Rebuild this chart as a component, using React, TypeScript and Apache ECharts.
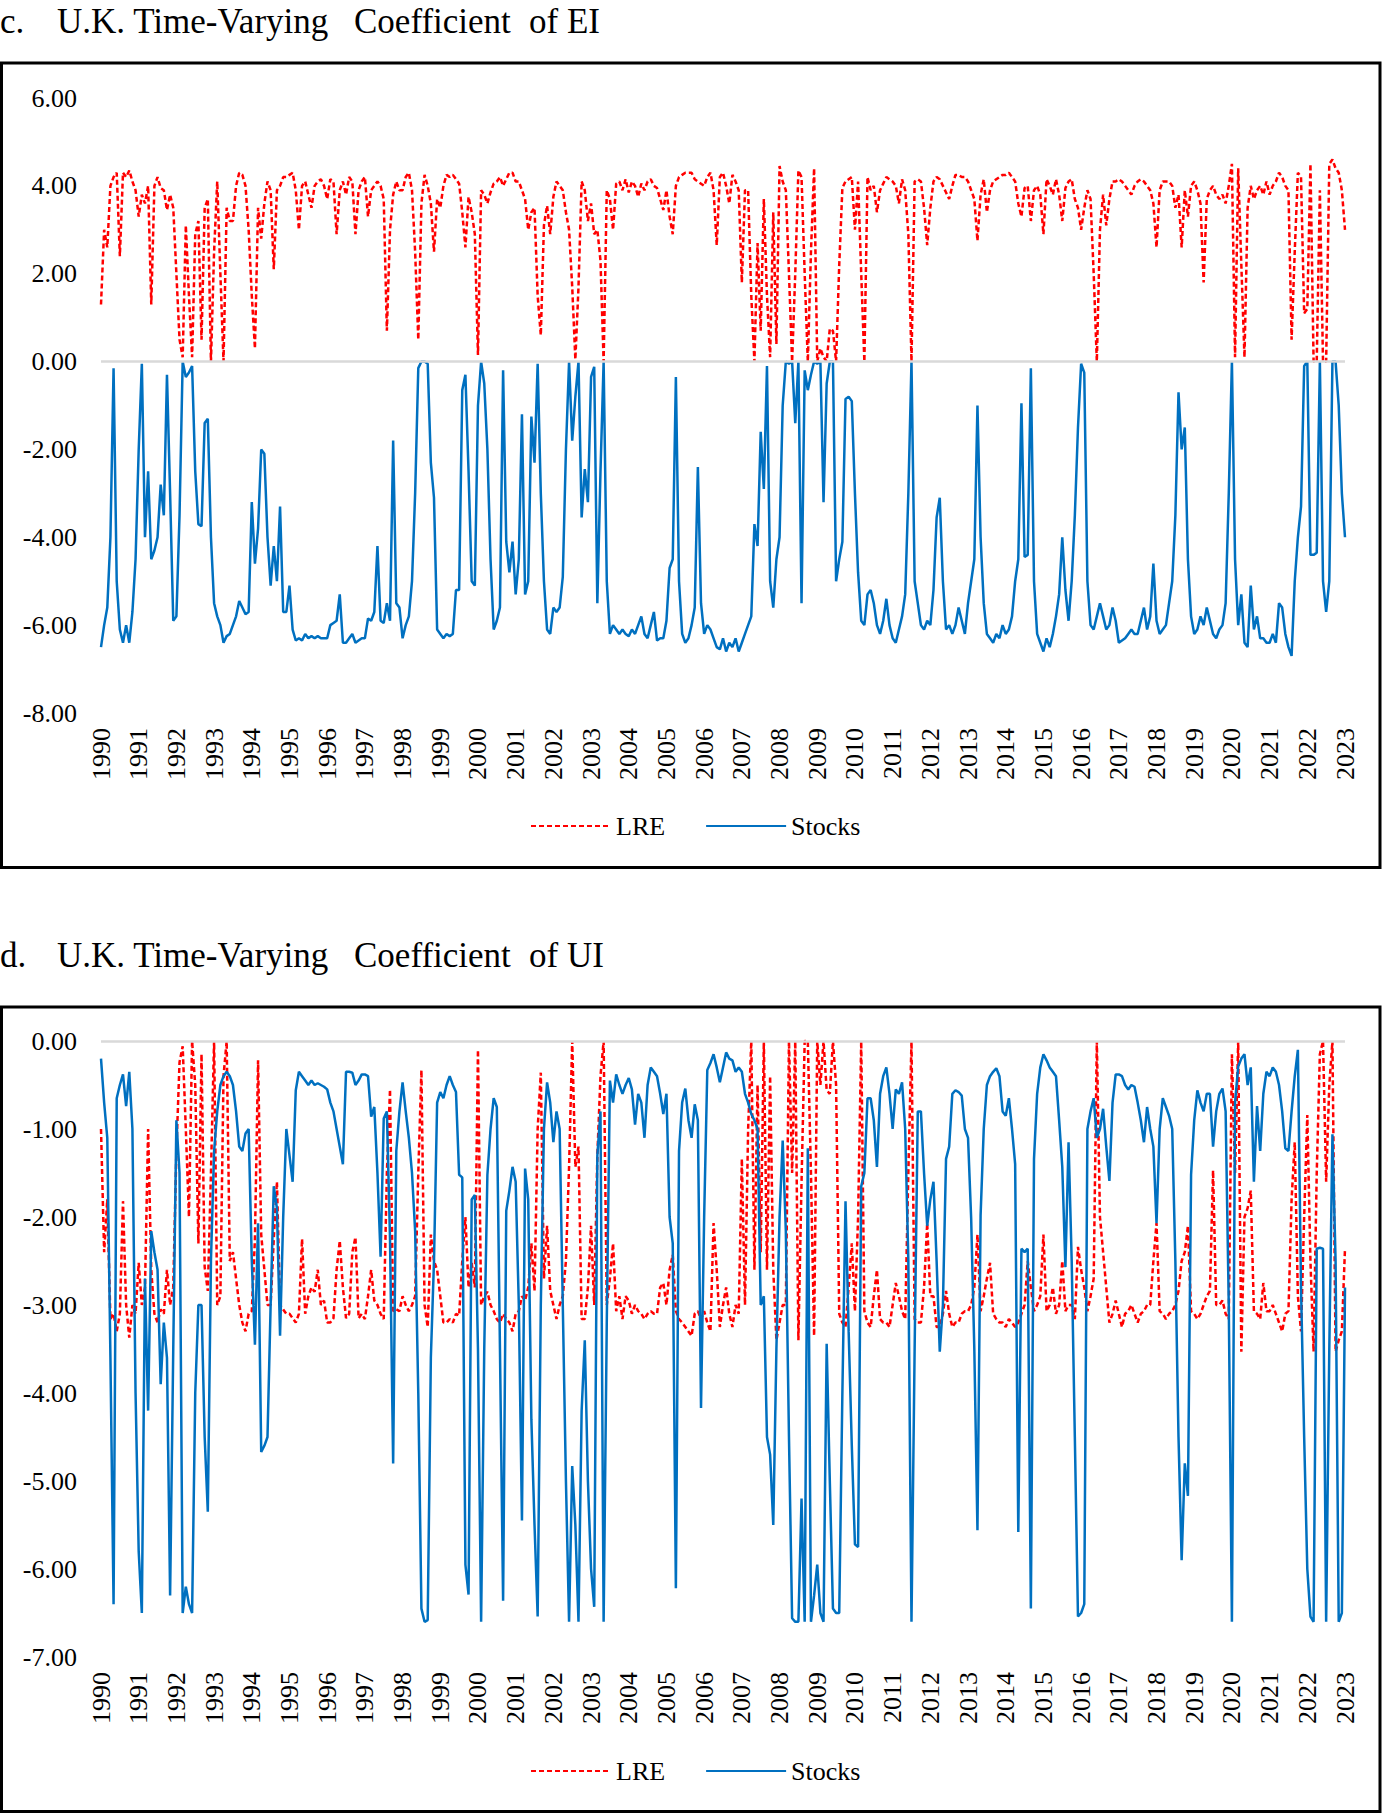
import { useEffect, useRef } from 'react'
import * as echarts from 'echarts'

// x axis: monthly observations, Jan 1990 .. Jan 2023
const yearLabels = [
  '1990', '1991', '1992', '1993', '1994', '1995', '1996', '1997', '1998', '1999', '2000', '2001',
  '2002', '2003', '2004', '2005', '2006', '2007', '2008', '2009', '2010', '2011', '2012', '2013',
  '2014', '2015', '2016', '2017', '2018', '2019', '2020', '2021', '2022', '2023',
]
const monthLabels = ['01', '02', '03', '04', '05', '06', '07', '08', '09', '10', '11', '12']

const cTicks = [-8, -6, -4, -2, 0, 2, 4, 6]
const dTicks = [-7, -6, -5, -4, -3, -2, -1, 0]

// c. Time-varying coefficient of EI
const cLRE = [
  1.3, 3.0, 2.6, 4.0, 4.2, 4.3, 2.4, 4.3, 4.2, 4.35, 4.1, 3.9, // 1990
  3.3, 3.8, 3.6, 4.0, 1.3, 4.0, 4.2, 3.95, 3.9, 3.45, 3.8, 3.5,
  2.0, 0.5, 0.1, 3.1, 1.5, 0.1, 2.9, 3.2, 0.5, 3.5, 3.7, 0.0,
  2.5, 4.1, 2.0, 0.0, 3.5, 3.2, 3.2, 4.0, 4.3, 4.25, 4.0, 3.0,
  1.5, 0.3, 3.5, 2.8, 3.6, 4.1, 3.9, 2.1, 3.9, 4.0, 4.2, 4.2,
  4.25, 4.3, 3.9, 3.0, 4.0, 4.1, 3.8, 3.5, 4.0, 4.1, 4.15, 4.0, // 1995
  3.7, 4.15, 4.1, 2.9, 3.9, 4.1, 3.8, 4.2, 4.1, 2.9, 3.9, 4.1,
  4.2, 3.3, 3.9, 4.0, 4.1, 4.0, 3.7, 0.7, 3.0, 3.8, 4.1, 3.9,
  3.9, 4.2, 4.3, 3.9, 2.5, 0.5, 3.6, 4.25, 4.0, 3.6, 2.5, 3.7,
  3.5, 4.0, 4.25, 4.2, 4.25, 4.15, 4.05, 3.4, 2.6, 3.75, 3.4, 2.9,
  0.15, 3.9, 3.8, 3.6, 3.85, 4.05, 4.1, 4.2, 4.0, 4.15, 4.3, 4.3, // 2000
  4.1, 4.1, 3.9, 3.7, 3.0, 3.4, 3.5, 1.5, 0.6, 3.1, 3.55, 2.9,
  3.75, 4.1, 4.0, 3.9, 3.4, 3.0, 1.7, 0.05, 1.7, 4.1, 3.9, 3.2,
  3.6, 2.9, 3.0, 2.3, 0.0, 3.9, 3.7, 3.0, 4.05, 4.1, 3.9, 4.15,
  3.85, 4.1, 4.0, 3.75, 4.05, 3.9, 4.1, 4.15, 4.0, 3.95, 3.7, 3.45,
  3.9, 3.3, 2.9, 4.0, 4.2, 4.25, 4.3, 4.3, 4.3, 4.15, 4.1, 4.05, // 2005
  4.0, 4.2, 4.3, 3.9, 2.65, 4.2, 4.3, 4.0, 3.6, 4.25, 4.1, 3.9,
  1.8, 3.9, 3.9, 1.5, 0.0, 2.7, 0.7, 3.7, 1.5, 0.1, 3.4, 0.4,
  4.45, 4.1, 3.9, 2.0, 0.0, 2.0, 4.35, 4.2, 2.0, 0.0, 2.5, 4.4,
  0.0, 0.3, 0.1, 0.0, 0.75, 0.7, 0.0, 2.2, 3.95, 4.1, 4.15, 4.2,
  3.0, 4.1, 2.0, 0.0, 4.2, 3.9, 4.0, 3.4, 3.9, 4.05, 4.2, 4.15, // 2010
  4.1, 4.0, 3.6, 4.15, 3.9, 2.9, 0.0, 4.1, 4.15, 4.1, 3.5, 2.65,
  3.5, 4.1, 4.2, 4.15, 4.0, 3.85, 3.7, 4.0, 4.25, 4.25, 4.2, 4.2,
  4.1, 3.9, 3.7, 2.75, 3.8, 4.15, 3.4, 3.9, 4.1, 4.15, 4.2, 4.25,
  4.25, 4.3, 4.2, 4.1, 3.6, 3.3, 3.95, 4.0, 3.2, 3.9, 4.0, 3.8,
  2.9, 4.15, 4.0, 3.8, 4.15, 3.8, 3.2, 3.95, 4.1, 4.15, 3.7, 3.5, // 2015
  3.0, 3.5, 3.9, 3.7, 2.0, 0.0, 3.0, 3.8, 3.1, 3.7, 4.1, 4.1,
  4.15, 4.1, 4.0, 3.9, 3.8, 4.0, 4.1, 4.15, 4.1, 4.0, 3.9, 3.6,
  2.6, 3.9, 4.1, 4.1, 4.1, 4.0, 3.5, 3.8, 2.6, 3.9, 3.3, 4.0,
  4.1, 3.9, 3.6, 1.8, 3.7, 3.9, 4.0, 3.8, 3.7, 3.8, 3.6, 4.0,
  4.5, 0.1, 4.4, 2.2, 0.1, 3.5, 4.0, 3.7, 3.9, 4.0, 3.8, 4.1, // 2020
  3.8, 4.0, 4.1, 4.3, 4.2, 4.0, 3.9, 0.5, 2.5, 4.3, 4.2, 1.1,
  1.2, 4.5, 0.0, 0.0, 3.9, 0.0, 0.0, 4.5, 4.6, 4.4, 4.3, 3.9,
  3.0, // 2023
]

const cStocks = [
  -6.5, -6.0, -5.6, -4.0, -0.15, -5.0, -6.1, -6.4, -6.0, -6.4, -5.7, -4.5, // 1990
  -2.0, -0.05, -4.0, -2.5, -4.5, -4.3, -4.0, -2.8, -3.5, -0.3, -3.0, -5.9,
  -5.8, -3.5, 0.0, -0.35, -0.25, -0.1, -2.5, -3.7, -3.75, -1.4, -1.3, -4.0,
  -5.5, -5.8, -6.0, -6.4, -6.25, -6.2, -6.0, -5.8, -5.45, -5.6, -5.75, -5.7,
  -3.2, -4.6, -3.8, -2.0, -2.1, -4.0, -5.1, -4.2, -5.0, -3.3, -5.7, -5.7,
  -5.1, -6.1, -6.35, -6.3, -6.35, -6.2, -6.3, -6.25, -6.3, -6.25, -6.3, -6.3, // 1995
  -6.3, -6.0, -5.95, -5.9, -5.3, -6.4, -6.4, -6.3, -6.2, -6.4, -6.35, -6.3,
  -6.3, -5.85, -5.9, -5.7, -4.2, -5.9, -5.95, -5.5, -5.9, -1.8, -5.5, -5.6,
  -6.3, -6.0, -5.8, -5.0, -3.0, -0.15, 0.0, 0.0, -0.05, -2.3, -3.1, -6.1,
  -6.2, -6.3, -6.2, -6.25, -6.2, -5.2, -5.2, -0.65, -0.3, -2.5, -5.0, -5.1,
  -1.0, 0.0, -0.5, -2.0, -4.5, -6.1, -5.9, -5.6, -0.2, -4.1, -4.8, -4.1, // 2000
  -5.3, -4.5, -1.2, -5.3, -5.0, -1.25, -2.3, -0.05, -3.0, -5.0, -6.1, -6.2,
  -5.6, -5.7, -5.6, -4.9, -2.0, 0.0, -1.8, -0.8, 0.0, -3.55, -2.45, -3.2,
  -0.35, -0.12, -5.5, -2.5, 0.0, -5.0, -6.2, -6.0, -6.1, -6.2, -6.1, -6.2,
  -6.25, -6.1, -6.2, -6.0, -5.8, -6.2, -6.3, -6.0, -5.7, -6.35, -6.3, -6.3,
  -5.9, -4.7, -4.5, -0.35, -5.0, -6.2, -6.4, -6.3, -6.0, -5.6, -2.4, -5.5, // 2005
  -6.2, -6.0, -6.1, -6.3, -6.5, -6.55, -6.3, -6.6, -6.4, -6.5, -6.3, -6.6,
  -6.4, -6.2, -6.0, -5.8, -3.7, -4.2, -1.6, -2.9, -0.1, -5.0, -5.6, -4.5,
  -4.0, -1.0, 0.0, -0.05, 0.0, -1.4, 0.0, -5.5, -0.2, -0.65, -0.3, 0.0,
  -0.05, 0.0, -3.2, -0.5, 0.0, 0.0, -5.0, -4.5, -4.1, -0.85, -0.8, -0.9,
  -3.0, -4.8, -5.9, -6.0, -5.3, -5.2, -5.5, -6.0, -6.2, -5.9, -5.4, -6.0, // 2010
  -6.3, -6.4, -6.1, -5.8, -5.3, -3.0, 0.0, -5.0, -5.5, -6.0, -6.1, -5.9,
  -6.0, -5.2, -3.55, -3.1, -5.0, -6.1, -6.0, -6.2, -6.0, -5.6, -5.9, -6.2,
  -5.5, -5.0, -4.5, -1.0, -4.0, -5.5, -6.2, -6.3, -6.4, -6.2, -6.3, -6.0,
  -6.2, -6.1, -5.8, -5.0, -4.5, -0.95, -4.45, -4.4, -0.15, -5.0, -6.2, -6.4,
  -6.6, -6.3, -6.5, -6.2, -5.8, -5.3, -4.0, -5.2, -5.9, -5.0, -3.5, -1.5, // 2015
  -0.05, -0.25, -5.0, -6.0, -6.1, -5.8, -5.5, -5.8, -6.1, -6.0, -5.6, -5.9,
  -6.4, -6.35, -6.3, -6.2, -6.1, -6.2, -6.2, -5.9, -5.6, -6.1, -5.8, -4.6,
  -5.9, -6.2, -6.1, -6.0, -5.5, -5.0, -3.5, -0.7, -2.0, -1.5, -4.5, -5.8,
  -6.2, -6.1, -5.8, -6.0, -5.6, -5.9, -6.2, -6.3, -6.1, -6.0, -5.5, -3.0,
  0.0, -4.5, -6.0, -5.3, -6.4, -6.5, -5.1, -6.1, -5.8, -6.3, -6.3, -6.4, // 2020
  -6.4, -6.2, -6.4, -5.5, -5.6, -6.2, -6.5, -6.7, -5.0, -4.0, -3.3, -0.1,
  0.0, -4.4, -4.4, -4.35, 0.0, -5.0, -5.7, -5.0, 0.0, 0.0, -1.0, -3.0,
  -4.0, // 2023
]

// d. Time-varying coefficient of UI
const dLRE = [
  -1.0, -2.4, -1.8, -3.16, -3.1, -3.3, -3.1, -1.82, -3.0, -3.37, -3.0, -3.1, // 1990
  -2.52, -3.0, -2.8, -1.0, -2.6, -3.1, -3.2, -3.05, -3.1, -2.6, -3.0, -2.8,
  -1.25, -0.24, -0.06, -1.0, -2.0, 0.0, -0.5, -2.3, -0.15, -2.57, -2.84, -1.5,
  0.0, -3.0, -2.9, -0.4, 0.0, -2.5, -2.4, -2.7, -3.0, -3.2, -3.3, -3.1,
  -3.07, -2.25, -0.22, -2.2, -2.6, -3.0, -3.0, -2.25, -1.6, -3.0, -3.05, -3.1,
  -3.1, -3.15, -3.2, -3.1, -2.25, -3.1, -2.9, -2.8, -2.85, -2.6, -3.0, -2.95, // 1995
  -3.2, -3.2, -3.15, -2.6, -2.27, -2.8, -3.15, -3.1, -2.4, -2.23, -3.15, -3.1,
  -3.16, -2.9, -2.6, -2.95, -3.0, -3.1, -3.16, -1.5, -0.55, -3.07, -3.05, -3.07,
  -2.9, -3.0, -3.07, -3.0, -2.9, -1.5, -0.33, -3.0, -3.25, -2.2, -2.5, -2.6,
  -2.9, -3.2, -3.2, -3.16, -3.2, -3.1, -3.12, -2.5, -2.0, -2.8, -2.52, -2.8,
  -0.1, -3.0, -2.9, -2.85, -3.0, -3.07, -3.16, -3.2, -3.1, -3.16, -3.2, -3.3, // 2000
  -3.1, -3.07, -2.9, -2.95, -2.8, -2.3, -2.84, -1.0, -0.36, -2.7, -2.1, -2.84,
  -3.0, -3.16, -3.0, -2.9, -2.5, -1.43, 0.0, -1.43, -1.2, -3.16, -3.16, -2.8,
  -2.1, -3.0, -1.3, -0.4, 0.0, -3.0, -2.7, -2.3, -3.07, -2.9, -3.16, -2.9,
  -2.95, -3.1, -3.0, -3.07, -3.1, -3.16, -3.1, -3.07, -3.1, -3.1, -2.8, -2.75,
  -3.0, -2.6, -2.43, -3.07, -3.16, -3.2, -3.25, -3.3, -3.35, -3.1, -3.07, -3.16, // 2005
  -3.07, -3.2, -3.3, -2.07, -2.6, -3.25, -3.0, -2.8, -3.1, -3.25, -3.0, -3.1,
  -1.34, -3.0, -1.0, 0.0, -2.6, -0.5, -2.4, 0.0, -2.6, -0.4, -2.6, -3.4,
  -3.2, -3.0, -3.0, 0.0, -1.5, 0.0, -3.4, -1.6, 0.0, 0.0, -1.5, -3.35,
  0.0, -0.5, 0.0, -0.56, -0.6, 0.0, -0.5, -3.1, -3.2, -3.25, -2.8, -2.3,
  -3.07, -2.0, 0.0, -3.07, -3.2, -3.25, -2.9, -2.6, -3.16, -3.2, -3.2, -3.25, // 2010
  -3.0, -2.75, -2.9, -3.07, -3.16, -1.5, 0.0, -3.16, -3.2, -3.2, -2.8, -2.07,
  -2.9, -2.9, -3.25, -3.25, -3.1, -2.84, -3.1, -3.25, -3.2, -3.2, -3.1, -3.07,
  -3.07, -3.0, -2.8, -2.2, -3.07, -2.9, -2.7, -2.52, -3.1, -3.16, -3.2, -3.2,
  -3.25, -3.16, -3.2, -3.25, -3.2, -3.1, -3.0, -2.5, -2.8, -3.07, -3.0, -2.9,
  -2.2, -3.07, -3.0, -2.8, -3.1, -3.0, -2.5, -3.07, -3.0, -3.0, -3.16, -2.34, // 2015
  -2.6, -2.8, -3.07, -2.9, -2.7, 0.0, -2.0, -2.4, -2.8, -3.2, -3.1, -2.95,
  -3.1, -3.25, -3.1, -3.07, -3.0, -3.1, -3.2, -3.1, -3.07, -3.0, -3.0, -2.5,
  -2.07, -3.07, -3.1, -3.16, -3.1, -3.07, -3.0, -2.84, -2.5, -2.4, -2.1, -3.07,
  -3.1, -3.16, -3.1, -3.0, -2.9, -2.84, -1.47, -3.0, -3.0, -2.95, -3.1, -3.16,
  -0.15, -1.5, 0.0, -3.53, -2.0, -1.9, -1.7, -3.07, -3.1, -3.16, -2.75, -3.07, // 2020
  -3.07, -3.0, -3.1, -3.2, -3.3, -3.1, -3.07, -1.8, -1.15, -2.9, -3.3, -2.0,
  -0.84, -2.5, -3.53, -1.5, -0.15, 0.0, -1.6, -0.5, 0.0, -3.53, -3.4, -3.3,
  -2.36, // 2023
]

const dStocks = [
  -0.2, -0.7, -1.1, -3.6, -6.4, -0.65, -0.5, -0.38, -0.74, -0.35, -1.0, -4.0, // 1990
  -5.8, -6.5, -2.7, -4.2, -2.16, -2.4, -2.6, -3.9, -3.2, -3.6, -6.3, -3.5,
  -0.9, -1.5, -6.5, -6.2, -6.4, -6.5, -4.0, -3.0, -3.0, -4.5, -5.35, -2.5,
  -1.25, -0.8, -0.5, -0.4, -0.35, -0.4, -0.5, -0.8, -1.2, -1.25, -1.05, -1.0,
  -2.5, -3.45, -2.07, -4.67, -4.6, -4.5, -3.0, -1.65, -1.9, -3.35, -2.0, -1.0,
  -1.3, -1.6, -0.56, -0.35, -0.4, -0.45, -0.5, -0.45, -0.5, -0.48, -0.5, -0.52, // 1995
  -0.55, -0.7, -0.8, -1.0, -1.2, -1.4, -0.35, -0.35, -0.36, -0.5, -0.45, -0.38,
  -0.38, -0.4, -0.86, -0.75, -1.5, -2.45, -0.88, -0.8, -2.25, -4.8, -1.25, -0.8,
  -0.47, -0.8, -1.1, -1.5, -2.16, -4.0, -6.45, -6.6, -6.58, -3.6, -2.5, -0.7,
  -0.58, -0.65, -0.5, -0.4, -0.5, -0.58, -1.52, -1.55, -5.95, -6.29, -1.8, -1.75,
  -3.5, -6.6, -3.5, -1.52, -1.0, -0.65, -0.75, -3.5, -6.36, -1.93, -1.7, -1.43, // 2000
  -1.6, -3.0, -5.45, -1.45, -1.8, -4.3, -5.5, -6.54, -3.0, -1.0, -0.47, -0.7,
  -1.15, -0.8, -1.0, -3.0, -5.0, -6.6, -4.83, -5.5, -6.6, -4.2, -3.4, -5.0,
  -6.0, -6.43, -1.3, -0.8, -6.6, -3.2, -0.45, -0.7, -0.38, -0.5, -0.6, -0.5,
  -0.42, -0.55, -0.95, -0.6, -0.7, -1.1, -0.5, -0.3, -0.35, -0.4, -0.6, -0.83,
  -0.6, -2.0, -2.3, -6.22, -1.25, -0.7, -0.54, -0.9, -1.1, -0.72, -0.9, -4.17, // 2005
  -2.0, -0.33, -0.25, -0.15, -0.3, -0.47, -0.3, -0.13, -0.2, -0.22, -0.35, -0.3,
  -0.35, -0.6, -0.7, -0.83, -0.9, -1.0, -3.0, -2.9, -4.5, -4.7, -5.5, -3.5,
  -2.0, -1.13, -2.16, -4.5, -6.56, -6.6, -6.6, -5.2, -6.6, -1.22, -6.6, -6.3,
  -5.95, -6.5, -6.6, -3.44, -5.0, -6.45, -6.5, -6.5, -4.0, -1.82, -3.3, -4.6,
  -5.72, -5.75, -1.65, -1.5, -0.65, -0.65, -0.9, -1.43, -0.6, -0.4, -0.3, -0.6, // 2010
  -1.0, -0.55, -0.6, -0.47, -1.0, -2.5, -6.6, -3.5, -0.8, -0.8, -1.5, -2.1,
  -1.8, -1.6, -2.5, -3.53, -3.0, -1.34, -1.2, -0.6, -0.56, -0.58, -0.62, -1.0,
  -1.1, -2.02, -3.5, -5.56, -1.98, -1.0, -0.5, -0.4, -0.35, -0.31, -0.4, -0.8,
  -0.85, -0.65, -1.0, -1.4, -5.58, -2.36, -2.4, -2.36, -6.45, -1.34, -0.6, -0.3,
  -0.15, -0.22, -0.3, -0.35, -0.4, -0.9, -1.43, -2.57, -1.15, -2.5, -4.5, -6.54, // 2015
  -6.5, -6.4, -1.0, -0.8, -0.65, -1.1, -1.0, -0.77, -1.2, -1.59, -0.7, -0.38,
  -0.38, -0.4, -0.5, -0.55, -0.5, -0.52, -0.7, -0.9, -1.15, -0.75, -1.0, -1.2,
  -2.07, -1.0, -0.65, -0.75, -0.85, -1.0, -2.5, -4.5, -5.9, -4.8, -5.17, -1.52,
  -0.9, -0.56, -0.7, -0.8, -0.6, -0.6, -1.2, -0.8, -0.6, -0.54, -0.8, -3.0,
  -6.6, -0.7, -0.29, -0.2, -0.15, -0.5, -0.3, -1.6, -0.74, -1.25, -0.6, -0.35, // 2020
  -0.4, -0.3, -0.35, -0.5, -0.8, -1.22, -1.25, -0.8, -0.4, -0.1, -2.8, -4.5,
  -6.0, -6.54, -6.6, -2.36, -2.35, -2.36, -6.6, -3.5, -1.06, -2.5, -6.6, -6.5,
  -2.8, // 2023
]

const FONT = '"Liberation Serif", "Times New Roman", Times, serif'
const RED = '#ff0000'
const BLUE = '#0070c0'

export default function App() {
  const chartRef = useRef<HTMLDivElement>(null)

  useEffect(() => {
    if (!chartRef.current) return
    const chart = echarts.init(chartRef.current, null, { renderer: 'svg' })

    const months = yearLabels.flatMap((y) => monthLabels.map((m) => `${y}-${m}`)).slice(0, cLRE.length)

    const xAxis = (gridIndex: number) => ({
      type: 'category',
      gridIndex,
      data: months,
      boundaryGap: false,
      axisLine: { show: false, onZero: false },
      axisTick: { show: false },
      splitLine: { show: false },
      axisLabel: {
        interval: (i: number) => i % 12 === 0,
        rotate: 90,
        margin: 15,
        color: '#000',
        fontFamily: FONT,
        fontSize: 26,
        formatter: (v: string) => v.slice(0, 4),
      },
    })

    const yAxis = (gridIndex: number, ticks: number[]) => ({
      type: 'value',
      gridIndex,
      min: ticks[0],
      max: ticks[ticks.length - 1],
      interval: ticks[1] - ticks[0],
      axisLine: { show: false },
      axisTick: { show: false },
      splitLine: { show: false },
      axisLabel: {
        margin: 24,
        color: '#000',
        fontFamily: FONT,
        fontSize: 26,
        formatter: (v: number) => v.toFixed(2),
      },
    })

    const zeroLine = {
      silent: true,
      symbol: 'none',
      label: { show: false },
      lineStyle: { color: '#d9d9d9', width: 2.5, type: 'solid' },
      data: [{ yAxis: 0 }],
    }

    const line = (name: string, data: number[], idx: number, color: string, dashed: boolean, withZero: boolean) => ({
      name,
      type: 'line',
      data,
      xAxisIndex: idx,
      yAxisIndex: idx,
      symbol: 'none',
      clip: false,
      z: dashed ? 2 : 3,
      lineStyle: { color, width: 2.5, type: dashed ? [5, 3] : 'solid', join: 'bevel' },
      itemStyle: { color },
      ...(withZero ? { markLine: zeroLine } : {}),
    })

    // line-only legend keys, as in the source chart (no marker dot)
    const legend = (top: number) => ({
      data: ['LRE', 'Stocks'],
      left: 530,
      top,
      padding: 0,
      itemWidth: 80,
      itemHeight: 14,
      itemGap: 40,
      selectedMode: false,
      itemStyle: { opacity: 0 },
      textStyle: { color: '#000', fontFamily: FONT, fontSize: 26 },
    })

    const heading = (y: number, letter: string, tail: string) => [
      { type: 'text', x: 0, y, style: { text: letter, fontFamily: FONT, fontSize: 35, fill: '#000', verticalAlign: 'middle' } },
      { type: 'text', x: 57, y, style: { text: 'U.K. Time-Varying', fontFamily: FONT, fontSize: 35, fill: '#000', verticalAlign: 'middle' } },
      { type: 'text', x: 354, y, style: { text: 'Coefficient', fontFamily: FONT, fontSize: 35, fill: '#000', verticalAlign: 'middle' } },
      { type: 'text', x: 529, y, style: { text: tail, fontFamily: FONT, fontSize: 35, fill: '#000', verticalAlign: 'middle' } },
    ]

    chart.setOption({
      animation: false,
      backgroundColor: '#fff',
      grid: [
        { left: 101, top: 98, width: 1244, height: 615 },
        { left: 101, top: 1041, width: 1244, height: 616 },
      ],
      xAxis: [xAxis(0), xAxis(1)],
      yAxis: [yAxis(0, cTicks), yAxis(1, dTicks)],
      legend: [legend(813), legend(1758)],
      series: [
        line('LRE', cLRE, 0, RED, true, true),
        line('Stocks', cStocks, 0, BLUE, false, false),
        line('LRE', dLRE, 1, RED, true, true),
        line('Stocks', dStocks, 1, BLUE, false, false),
      ],
      graphic: [
        ...heading(21, 'c.', 'of EI'),
        ...heading(955, 'd.', 'of UI'),
        {
          type: 'rect',
          silent: true,
          shape: { x: 1.5, y: 63, width: 1378.5, height: 804.5 },
          style: { fill: 'none', stroke: '#000', lineWidth: 3 },
        },
        {
          type: 'rect',
          silent: true,
          shape: { x: 1.5, y: 1007, width: 1378.5, height: 804.5 },
          style: { fill: 'none', stroke: '#000', lineWidth: 3 },
        },
      ],
    })

    return () => chart.dispose()
  }, [])

  return <div ref={chartRef} style={{ position: 'absolute', left: 0, top: 0, width: 1382, height: 1814 }} />
}
